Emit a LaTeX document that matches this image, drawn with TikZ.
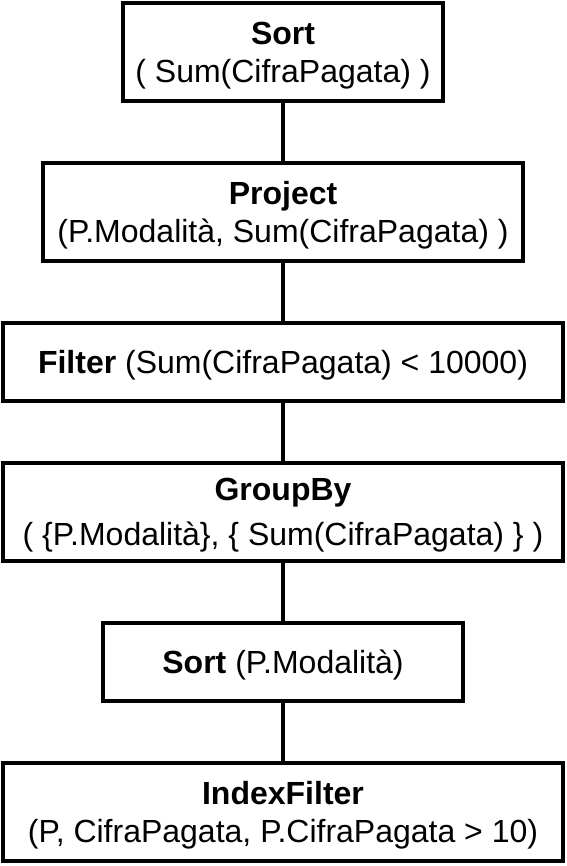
\documentclass[tikz,border=0pt]{standalone}
\usepackage{fontspec}
\setmainfont{Liberation Sans}
\begin{document}
\begin{tikzpicture}[x=1pt,y=-1pt,
  opbox/.style={draw=black,line width=4pt,rectangle,inner sep=0pt,align=center,
    font=\fontsize{32}{38}\selectfont,text=black,fill=white,text depth=0pt},
  link/.style={draw=black,line width=4pt}]
\useasboundingbox (0,0) rectangle (566,866);
\node[opbox,minimum width=320pt,minimum height=98pt] (s1) at (283,52) {\textbf{Sort}\\( Sum(CifraPagata) )};
\node[opbox,minimum width=480pt,minimum height=98pt] (pr) at (283,212) {\textbf{Project}\\(P.Modalità, Sum(CifraPagata) )};
\node[opbox,minimum width=560pt,minimum height=78pt] (fi) at (283,362) {\textbf{Filter} (Sum(CifraPagata) < 10000)};
\node[opbox,minimum width=560pt,minimum height=98pt] (gb) at (283,512) {\textbf{GroupBy}\\[7pt]( \{P.Modalità\}, \{ Sum(CifraPagata) \} )};
\node[opbox,minimum width=360pt,minimum height=78pt] (s2) at (283,662) {\textbf{Sort} (P.Modalità)};
\node[opbox,minimum width=560pt,minimum height=98pt] (ix) at (283,812) {\textbf{IndexFilter}\\(P, CifraPagata, P.CifraPagata > 10)};
\draw[link] (s1) -- (pr);
\draw[link] (pr) -- (fi);
\draw[link] (fi) -- (gb);
\draw[link] (gb) -- (s2);
\draw[link] (s2) -- (ix);
\end{tikzpicture}
\end{document}
